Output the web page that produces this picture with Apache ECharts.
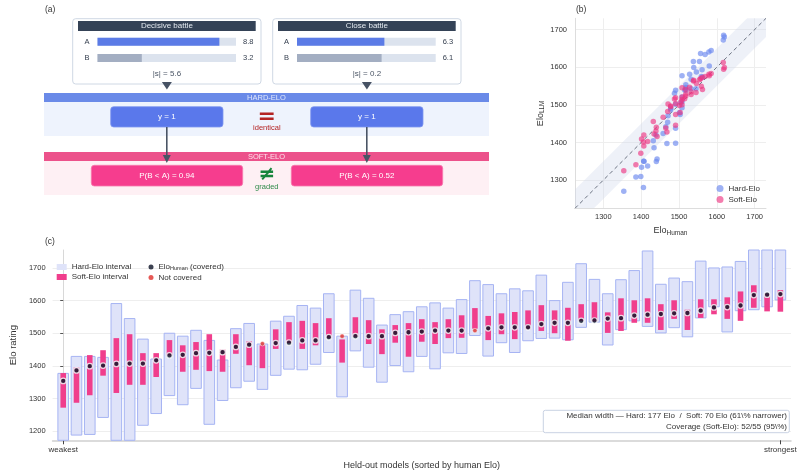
<!DOCTYPE html>
<html>
<head>
<meta charset="utf-8">
<script src="https://cdn.jsdelivr.net/npm/echarts@6/dist/echarts.min.js"></script>
<style>
  html, body { margin: 0; padding: 0; background: #fff; }
  #chart { width: 804px; height: 475px; }
</style>
</head>
<body>
<div id="chart"></div>
<script>
// panel (a): judge scores for the two example battles (0-10 scale)
const battleNames = ['Decisive battle', 'Close battle']
const scoreA = [8.8, 6.3]
const scoreB = [3.2, 6.1]
const gapText = ['|s| = 5.6', '|s| = 0.2']
const softProb = ['P(B < A) = 0.94', 'P(B < A) = 0.52']

// panel (c): 55 held-out models, sorted by human Elo
const humanElo = [1354, 1386, 1399, 1401, 1406, 1407, 1407, 1417, 1432, 1434, 1439, 1440, 1442, 1458, 1465, 1468, 1470, 1471, 1478, 1478,
  1488, 1491, 1491, 1491, 1491, 1501, 1503, 1505, 1508, 1508, 1508, 1508, 1515, 1518, 1518, 1518, 1528, 1532, 1532, 1538,
  1539, 1545, 1546, 1554, 1557, 1559, 1561, 1562, 1569, 1579, 1580, 1585, 1617, 1618, 1620]
const hardLo = [1163, 1188, 1190, 1242, 969, 1155, 1218, 1254, 1309, 1281, 1331, 1221, 1294, 1333, 1353, 1328, 1371, 1390, 1388, 1405,
  1441, 1305, 1446, 1396, 1350, 1401, 1382, 1429, 1391, 1440, 1438, 1493, 1430, 1471, 1441, 1477, 1484, 1485, 1480, 1518,
  1534, 1464, 1511, 1538, 1521, 1501, 1517, 1489, 1547, 1581, 1504, 1569, 1572, 1581, 1602]
const hardHi = [1377, 1429, 1429, 1426, 1591, 1545, 1482, 1421, 1500, 1491, 1509, 1478, 1418, 1514, 1530, 1467, 1537, 1552, 1585, 1577,
  1621, 1491, 1632, 1607, 1525, 1557, 1566, 1581, 1593, 1577, 1603, 1661, 1649, 1621, 1636, 1630, 1678, 1600, 1656, 1713,
  1665, 1621, 1664, 1692, 1752, 1650, 1669, 1658, 1721, 1700, 1703, 1720, 1772, 1789, 1758]
const softLo = [1272, 1287, 1310, 1370, 1317, 1342, 1342, 1366, 1432, 1382, 1388, 1384, 1382, 1437, 1402, 1393, 1452, 1470, 1452, 1463,
  1485, 1410, 1489, 1467, 1436, 1471, 1428, 1474, 1467, 1485, 1486, 1514, 1479, 1497, 1482, 1512, 1507, 1500, 1477, 1538,
  1536, 1501, 1507, 1532, 1532, 1510, 1544, 1510, 1547, 1558, 1544, 1538, 1578, 1567, 1566]
const softHi = [1378, 1395, 1433, 1448, 1485, 1497, 1439, 1439, 1479, 1463, 1473, 1497, 1450, 1497, 1475, 1463, 1512, 1534, 1538, 1531,
  1546, 1481, 1549, 1540, 1512, 1525, 1531, 1543, 1534, 1543, 1555, 1577, 1553, 1561, 1565, 1570, 1586, 1570, 1578, 1589,
  1595, 1564, 1607, 1601, 1607, 1589, 1601, 1572, 1604, 1604, 1610, 1628, 1647, 1622, 1632]
const xTickLabels = ['weakest', 'strongest']

const FONT = 'Liberation Sans'
const HARD_FILL = '#dfe3f9'
const HARD_LINE = '#a6b4f3'
const SOFT_FILL = '#f03e8c'
const DARK = '#333'

const idx = humanElo.map((_, i) => i)
const hardRows = idx.map(i => [i, hardLo[i], hardHi[i]])
const softRows = idx.map(i => [i, softLo[i], softHi[i]])
const covered = idx.filter(i => humanElo[i] >= softLo[i] && humanElo[i] <= softHi[i]).map(i => [i, humanElo[i]])
const missed = idx.filter(i => humanElo[i] < softLo[i] || humanElo[i] > softHi[i]).map(i => [i, humanElo[i]])

// panel (b): point estimates are the interval centres
const hardPts = idx.map(i => [humanElo[i], (hardLo[i] + hardHi[i]) / 2])
const softPts = idx.map(i => [humanElo[i], (softLo[i] + softHi[i]) / 2])

function intervalRenderer(frac, style) {
  return function (params, api) {
    const top = api.coord([api.value(0), api.value(2)])
    const bot = api.coord([api.value(0), api.value(1)])
    const w = api.size([1, 0])[0] * frac
    const shape = echarts.graphic.clipRectByRect(
      { x: top[0] - w / 2, y: top[1], width: w, height: bot[1] - top[1] },
      params.coordSys
    )
    return shape && { type: 'rect', shape: shape, style: style }
  }
}

function txt(text, x, y, opts) {
  opts = opts || {}
  return {
    type: 'text', z: 20,
    style: {
      text: text, x: x, y: y,
      fill: opts.fill || DARK,
      font: (opts.weight || 'normal') + ' ' + (opts.size || 8) + 'px ' + (opts.family || FONT),
      textAlign: opts.align || 'center', align: opts.align || 'center',
      textVerticalAlign: 'middle', verticalAlign: 'middle'
    }
  }
}

const graphics = []
graphics.push(txt('(a)', 45, 10, { align: 'left', size: 8.5 }))
graphics.push(txt('(b)', 576, 10, { align: 'left', size: 8.5 }))
graphics.push(txt('(c)', 45, 242, { align: 'left', size: 8.5 }))

// battle cards
const cardX = [72.7, 272.7]
cardX.forEach((cx, k) => {
  const mid = cx + 94.2
  graphics.push({ type: 'rect', z: 1, shape: { x: cx, y: 18.7, width: 188.3, height: 65.3, r: 3 }, style: { fill: '#fff', stroke: '#cfd8e4', lineWidth: 1 } })
  graphics.push({ type: 'rect', z: 2, shape: { x: cx + 5.3, y: 21, width: 177.7, height: 10 }, style: { fill: '#344256' } })
  graphics.push(txt(battleNames[k], mid, 26, { fill: '#e3e8ef' }))
  graphics.push(txt(gapText[k], mid, 74, { fill: '#4a5565' }))
  graphics.push({ type: 'polygon', z: 5, shape: { points: [[mid - 5, 82], [mid + 5, 82], [mid, 89.5]] }, style: { fill: '#475264' } })
})

// HARD-ELO and SOFT-ELO bands
graphics.push({ type: 'rect', z: 1, shape: { x: 44, y: 93, width: 445, height: 9 }, style: { fill: '#6a8ae8' } })
graphics.push(txt('HARD-ELO', 266.5, 97.7, { fill: '#dfe6fb', size: 7.5 }))
graphics.push({ type: 'rect', z: 1, shape: { x: 44, y: 102, width: 445, height: 34 }, style: { fill: '#eef3fd' } })
graphics.push({ type: 'rect', z: 1, shape: { x: 44, y: 152, width: 445, height: 9 }, style: { fill: '#ec528b' } })
graphics.push(txt('SOFT-ELO', 266.5, 156.5, { fill: '#fde2ec', size: 7.5 }))
graphics.push({ type: 'rect', z: 1, shape: { x: 44, y: 161, width: 445, height: 34 }, style: { fill: '#fef0f4' } })

;[166.8, 366.8].forEach((mid, k) => {
  graphics.push({ type: 'rect', z: 3, shape: { x: mid - 56.1, y: 106.7, width: 112.3, height: 20.3, r: 3 }, style: { fill: '#5a78eb', stroke: '#7f97ef', lineWidth: 0.8 } })
  graphics.push(txt('y = 1', mid, 116.9, { fill: '#fff' }))
  graphics.push({ type: 'line', z: 6, shape: { x1: mid, y1: 127, x2: mid, y2: 157 }, style: { stroke: '#4a5565', lineWidth: 1.6 } })
  graphics.push({ type: 'polygon', z: 6, shape: { points: [[mid - 4, 155], [mid + 4, 155], [mid, 163]] }, style: { fill: '#4a5565' } })
  graphics.push({ type: 'rect', z: 3, shape: { x: mid - 75.5, y: 165.3, width: 151.4, height: 20.7, r: 3 }, style: { fill: '#f63d8e', stroke: '#f878ad', lineWidth: 0.8 } })
  graphics.push(txt(softProb[k], mid, 175.7, { fill: '#fff' }))
})
graphics.push(txt('=', 266.8, 117, { fill: '#b42323', size: 22, weight: 'bold', family: 'DejaVu Sans' }))
graphics.push(txt('identical', 266.8, 128, { fill: '#b42323', size: 7.5 }))
graphics.push(txt('≠', 266.8, 175, { fill: '#17853c', size: 20, weight: 'bold', family: 'DejaVu Sans' }))
graphics.push(txt('graded', 266.8, 187.3, { fill: '#2f8a4a', size: 7.5 }))

// summary box in panel (c)
graphics.push({ type: 'rect', z: 10, shape: { x: 543.3, y: 410.3, width: 246, height: 22.4, r: 2 }, style: { fill: 'rgba(255,255,255,0.92)', stroke: '#c9d2e3', lineWidth: 1 } })
graphics.push(txt('Median width — Hard: 177 Elo  /  Soft: 70 Elo (61\\% narrower)', 787, 416.2, { align: 'right' }))
graphics.push(txt('Coverage (Soft-Elo): 52/55 (95\\%)', 787, 426.6, { align: 'right' }))

const subRich = {
  sub: { fontSize: 6.5, fontFamily: FONT, color: DARK, padding: [4, 0, 0, 0] }
}
const plain = v => String(v)

const scoreAxis = (grid, right, labels) => ({
  gridIndex: grid, type: 'category', inverse: true, z: 50,
  position: right ? 'right' : 'left',
  data: labels,
  axisLine: { show: false }, axisTick: { show: false },
  axisLabel: { fontSize: 7.5, color: '#374151', margin: right ? 7 : 8 }
})

const chart = echarts.init(document.getElementById('chart'))
chart.setOption({
  animation: false,
  backgroundColor: '#fff',
  textStyle: { fontFamily: FONT },
  graphic: graphics,
  grid: [
    { left: 44.3, right: 13, top: 250, bottom: 34.7 },
    { left: 575, right: 38, top: 18.3, bottom: 266.7 },
    { left: 97.5, width: 138.5, top: 33.6, height: 32.4 },
    { left: 297, width: 138.7, top: 33.6, height: 32.4 }
  ],
  legend: [
    {
      left: 51.7, top: 258, orient: 'vertical', itemGap: 2, itemWidth: 10, itemHeight: 6,
      textStyle: { fontSize: 8, color: DARK },
      data: [
        { name: 'Hard-Elo interval', icon: 'rect', itemStyle: { color: HARD_FILL, borderWidth: 0 } },
        { name: 'Soft-Elo interval', icon: 'rect', itemStyle: { color: SOFT_FILL } }
      ]
    },
    {
      left: 143.5, top: 258, orient: 'vertical', itemGap: 2, itemWidth: 5, itemHeight: 5,
      textStyle: { fontSize: 8, color: DARK, rich: { sub: { fontSize: 5.5, color: DARK, padding: [3, 0, 0, 0] } } },
      formatter: name => name === 'human' ? 'Elo{sub|Human} (covered)' : name,
      data: [
        { name: 'human', icon: 'circle', itemStyle: { color: '#0b1226', borderWidth: 0 } },
        { name: 'Not covered', icon: 'circle', itemStyle: { color: '#e0302c', borderWidth: 0 } }
      ]
    },
    {
      left: 711.5, top: 179.5, orient: 'vertical', itemGap: 3, itemWidth: 7, itemHeight: 7,
      textStyle: { fontSize: 8, color: DARK },
      data: [
        { name: 'Hard-Elo', icon: 'circle' },
        { name: 'Soft-Elo', icon: 'circle' }
      ]
    }
  ],
  xAxis: [
    {
      gridIndex: 0, type: 'value', min: -0.8, max: 54.8,
      name: 'Held-out models (sorted by human Elo)', nameLocation: 'middle', nameGap: 21,
      nameTextStyle: { fontSize: 9, color: DARK },
      axisLine: { lineStyle: { color: '#cfcfcf', width: 1.5 } },
      axisTick: { show: true, customValues: [0, 54], length: 4, lineStyle: { color: '#444' } },
      axisLabel: { customValues: [0, 54], fontSize: 8, color: DARK, margin: 5, formatter: v => (v === 0 ? xTickLabels[0] : xTickLabels[1]) },
      splitLine: { show: false }
    },
    {
      gridIndex: 1, type: 'value', min: 1225, max: 1730,
      name: 'Elo{sub|Human}', nameLocation: 'middle', nameGap: 17,
      nameTextStyle: { fontSize: 9, color: DARK, rich: subRich },
      axisLine: { lineStyle: { color: '#dddddd' } },
      axisTick: { show: false },
      axisLabel: { fontSize: 7.5, color: DARK, margin: 5, showMinLabel: false, showMaxLabel: false, formatter: plain },
      splitLine: { lineStyle: { color: '#eeeeee' }, showMinLine: false, showMaxLine: false }
    },
    { gridIndex: 2, type: 'value', min: 0, max: 10, show: false },
    { gridIndex: 3, type: 'value', min: 0, max: 10, show: false }
  ],
  yAxis: [
    {
      gridIndex: 0, type: 'value', min: 1172, max: 1755,
      name: 'Elo rating', nameLocation: 'middle', nameGap: 28,
      nameTextStyle: { fontSize: 9.5, color: DARK },
      axisLine: { show: true, lineStyle: { color: '#d8d8d8' } },
      axisTick: { show: true, length: 3, lineStyle: { color: '#555' } },
      axisLabel: { fontSize: 7.5, color: DARK, margin: 7, showMinLabel: false, showMaxLabel: false, formatter: plain },
      splitLine: { lineStyle: { color: '#eeeeee' }, showMinLine: false, showMaxLine: false }
    },
    {
      gridIndex: 1, type: 'value', min: 1225, max: 1730,
      name: 'Elo{sub|LLM}', nameLocation: 'middle', nameGap: 29,
      nameTextStyle: { fontSize: 9, color: DARK, rich: subRich },
      axisLine: { show: true, lineStyle: { color: '#dddddd' } },
      axisTick: { show: false },
      axisLabel: { fontSize: 7.5, color: DARK, margin: 8, showMinLabel: false, showMaxLabel: false, formatter: plain },
      splitLine: { lineStyle: { color: '#eeeeee' }, showMinLine: false, showMaxLine: false }
    },
    scoreAxis(2, false, ['A', 'B']),
    scoreAxis(2, true, [scoreA[0], scoreB[0]].map(String)),
    scoreAxis(3, false, ['A', 'B']),
    scoreAxis(3, true, [scoreA[1], scoreB[1]].map(String))
  ],
  series: [
    // panel (a) score bars
    ...[0, 1].map(k => ({
      type: 'bar', xAxisIndex: 2 + k, yAxisIndex: 2 + 2 * k, barWidth: 8, z: 30,
      showBackground: true, backgroundStyle: { color: '#dce3ee' },
      data: [
        { value: scoreA[k], itemStyle: { color: '#5b7be6' } },
        { value: scoreB[k], itemStyle: { color: '#a3aec2' } }
      ]
    })),
    // panel (b)
    {
      name: 'band', type: 'custom', xAxisIndex: 1, yAxisIndex: 1, silent: true, z: 1,
      data: [[1225, 1730]],
      renderItem: (params, api) => {
        const a = api.value(0), b = api.value(1), h = 50
        const pts = [[a, a - h], [b, b - h], [b, b + h], [a, a + h]].map(p => api.coord(p))
        return {
          type: 'polygon', shape: { points: pts },
          clipPath: { type: 'rect', shape: params.coordSys },
          style: { fill: 'rgba(205,215,235,0.35)' }
        }
      }
    },
    {
      name: 'diag', type: 'line', xAxisIndex: 1, yAxisIndex: 1, symbol: 'none', silent: true, z: 2,
      data: [[1225, 1225], [1730, 1730]],
      lineStyle: { color: '#6b7280', width: 1, type: [4, 3] }
    },
    {
      name: 'Hard-Elo', type: 'scatter', xAxisIndex: 1, yAxisIndex: 1, symbolSize: 5.5, z: 3,
      itemStyle: { color: 'rgba(104,133,238,0.8)' }, data: hardPts
    },
    {
      name: 'Soft-Elo', type: 'scatter', xAxisIndex: 1, yAxisIndex: 1, symbolSize: 5.5, z: 4,
      itemStyle: { color: 'rgba(238,52,128,0.8)' }, data: softPts
    },
    // panel (c)
    {
      name: 'Hard-Elo interval', type: 'custom', xAxisIndex: 0, yAxisIndex: 0, z: 2,
      itemStyle: { color: HARD_FILL },
      renderItem: intervalRenderer(0.8, { fill: HARD_FILL, stroke: HARD_LINE, lineWidth: 1 }),
      encode: { x: 0, y: [1, 2] },
      data: hardRows
    },
    {
      name: 'Soft-Elo interval', type: 'custom', xAxisIndex: 0, yAxisIndex: 0, z: 3,
      itemStyle: { color: SOFT_FILL },
      renderItem: intervalRenderer(0.42, { fill: SOFT_FILL }),
      encode: { x: 0, y: [1, 2] },
      data: softRows
    },
    {
      name: 'human', type: 'scatter', xAxisIndex: 0, yAxisIndex: 0, z: 5, symbolSize: 5.5,
      itemStyle: { color: '#0b1226', borderColor: '#fff', borderWidth: 1.2 },
      data: covered
    },
    {
      name: 'Not covered', type: 'scatter', xAxisIndex: 0, yAxisIndex: 0, z: 5, symbolSize: 4.5,
      itemStyle: { color: '#e0302c', borderColor: '#fff', borderWidth: 0.6 },
      data: missed
    }
  ]
})
</script>
</body>
</html>
